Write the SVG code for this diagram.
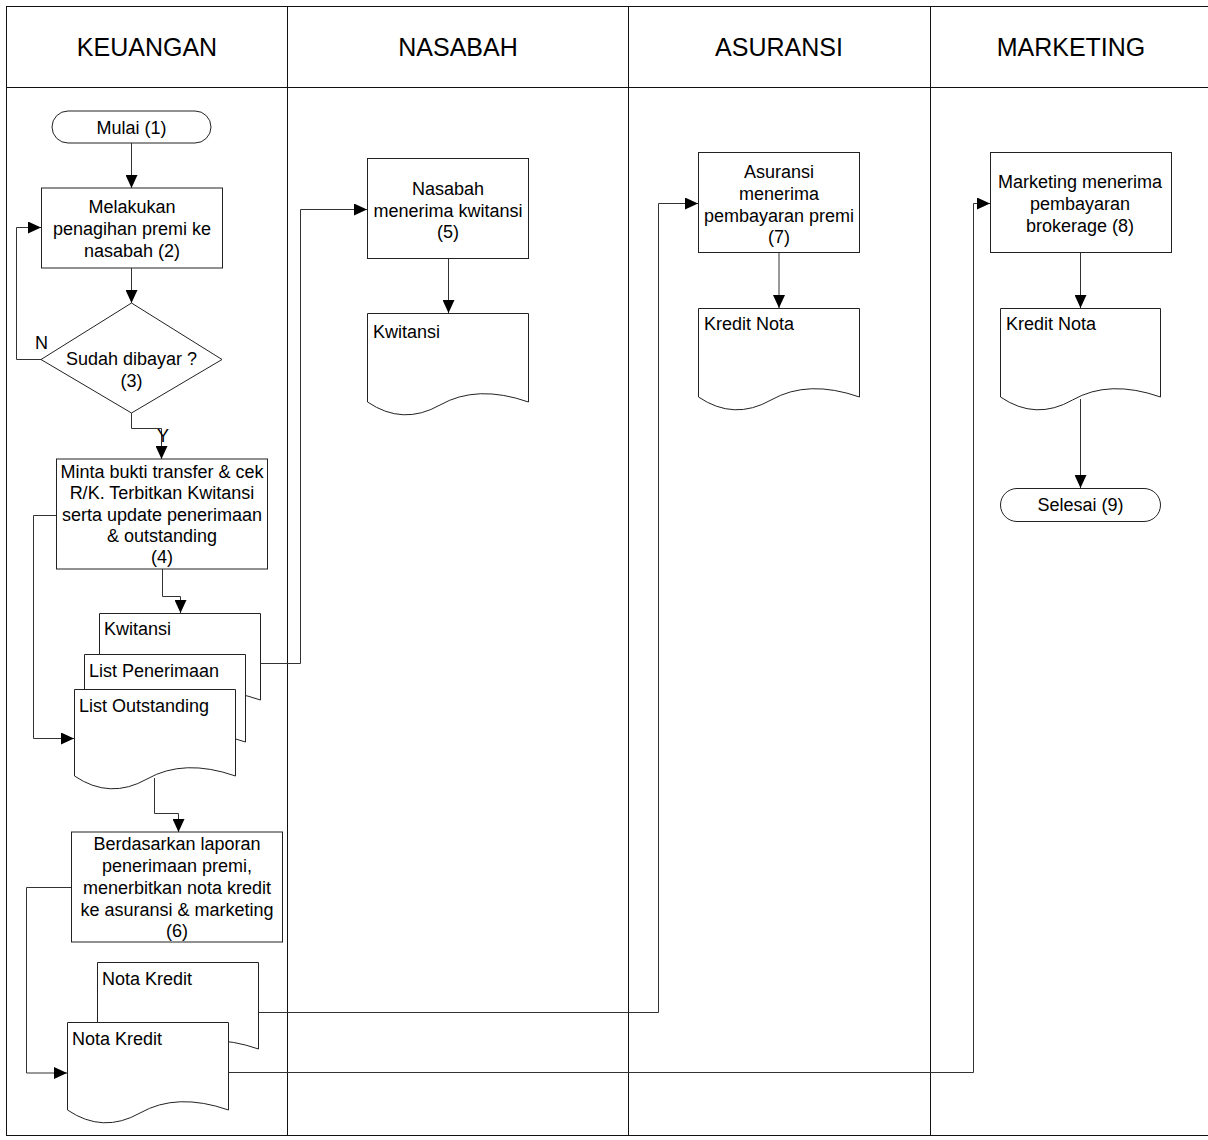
<svg xmlns="http://www.w3.org/2000/svg" width="1208" height="1140" viewBox="0 0 1208 1140">
<defs>
<marker id="arr" viewBox="0 0 10 10" refX="10" refY="5" markerWidth="13" markerHeight="12" markerUnits="userSpaceOnUse" orient="auto" preserveAspectRatio="none">
<path d="M0,0 L10,5 L0,10 z" fill="#000"/>
</marker>
<style>
.shape{fill:#fff;stroke:#222;stroke-width:1}
.lane{fill:none;stroke:#111;stroke-width:1}
.conn{fill:none;stroke:#333;stroke-width:1;marker-end:url(#arr)}
.line{fill:none;stroke:#333;stroke-width:1}
text{font-family:"Liberation Sans",Arial,sans-serif;fill:#000}
.hd{font-size:25px;text-anchor:middle}
.t{font-size:18px;text-anchor:middle}
.dt{font-size:18px}
</style>
</defs>
<rect width="1208" height="1140" fill="#fff"/>
<g id="lanes">
<rect class="lane" x="6.5" y="6.5" width="1215" height="1129"/>
<line class="lane" x1="6" y1="87.5" x2="1208" y2="87.5"/>
<line class="lane" x1="287.5" y1="6" x2="287.5" y2="1136"/>
<line class="lane" x1="628.5" y1="6" x2="628.5" y2="1136"/>
<line class="lane" x1="930.5" y1="6" x2="930.5" y2="1136"/>
<text class="hd" x="147" y="56">KEUANGAN</text>
<text class="hd" x="458" y="56">NASABAH</text>
<text class="hd" x="779" y="56">ASURANSI</text>
<text class="hd" x="1071" y="56">MARKETING</text>
</g>
<g id="connectors">
<path class="conn" d="M131.5,143 V188"/>
<path class="conn" d="M131.5,268 V303"/>
<path class="conn" d="M41,359.5 H16.5 V227.5 H41"/>
<path class="conn" d="M131.5,413 V428.5 H161.5 V459"/>
<path class="conn" d="M56,515.5 H33.5 V738.5 H74"/>
<path class="conn" d="M162.5,569 V596.5 H180.5 V613"/>
<path class="conn" d="M260,663.5 H300.5 V209.5 H367"/>
<path class="conn" d="M154.5,778 V813.5 H178.5 V832"/>
<path class="conn" d="M71,887.5 H26.5 V1073 H67"/>
<path class="conn" d="M258,1012.5 H658.5 V203.5 H698"/>
<path class="conn" d="M228,1072.5 H973.5 V203.5 H990"/>
<path class="conn" d="M448.5,258 V313"/>
<path class="conn" d="M779,252 V308"/>
<path class="conn" d="M1080.5,252 V308"/>
<path class="conn" d="M1080.5,399 V488"/>
<text class="dt" x="35" y="349">N</text>
<text class="dt" x="157" y="442">Y</text>
</g>
<g id="n1">
<rect class="shape" x="52" y="111" width="159" height="32" rx="16"/>
<text class="t" x="131.5" y="134">Mulai (1)</text>
</g>
<g id="n2">
<rect class="shape" x="41.5" y="188" width="181" height="80"/>
<text class="t" x="132" y="213">Melakukan</text>
<text class="t" x="132" y="235">penagihan premi ke</text>
<text class="t" x="132" y="257">nasabah (2)</text>
</g>
<g id="n3">
<polygon class="shape" points="131.5,303 222,359.5 131.5,413 41,359.5"/>
<text class="t" x="131.5" y="365">Sudah dibayar ?</text>
<text class="t" x="131.5" y="387">(3)</text>
</g>
<g id="n4">
<rect class="shape" x="56.5" y="459" width="211" height="110"/>
<text class="t" x="162" y="478">Minta bukti transfer &amp; cek</text>
<text class="t" x="162" y="499">R/K. Terbitkan Kwitansi</text>
<text class="t" x="162" y="521">serta update penerimaan</text>
<text class="t" x="162" y="542">&amp; outstanding</text>
<text class="t" x="162" y="563">(4)</text>
</g>
<g id="d4a">
<path class="shape" d="M99.5,700 V613.5 H260.5 V700 Q209,682 172,703 Q134.9,724 99.5,700 Z"/>
<text class="dt" x="104" y="635">Kwitansi</text>
</g>
<g id="d4b">
<path class="shape" d="M84.5,742 V654.5 H245.5 V742 Q194,724 157,745 Q119.9,766 84.5,742 Z"/>
<text class="dt" x="89" y="677">List Penerimaan</text>
</g>
<g id="d4c">
<path class="shape" d="M74.5,776 V689.5 H235.5 V776 Q184,758 147,779 Q109.9,800 74.5,776 Z"/>
<text class="dt" x="79" y="712">List Outstanding</text>
</g>
<g id="n6">
<rect class="shape" x="71.5" y="832" width="211" height="110"/>
<text class="t" x="177" y="850">Berdasarkan laporan</text>
<text class="t" x="177" y="872">penerimaan premi,</text>
<text class="t" x="177" y="894">menerbitkan nota kredit</text>
<text class="t" x="177" y="916">ke asuransi &amp; marketing</text>
<text class="t" x="177" y="937">(6)</text>
</g>
<g id="d6a">
<path class="shape" d="M97.5,1049 V962.5 H258.5 V1049 Q207,1031 170,1052 Q132.9,1073 97.5,1049 Z"/>
<text class="dt" x="102" y="985">Nota Kredit</text>
</g>
<g id="d6b">
<path class="shape" d="M67.5,1110 V1022.5 H228.5 V1110 Q177,1092 140,1113 Q102.9,1134 67.5,1110 Z"/>
<text class="dt" x="72" y="1045">Nota Kredit</text>
</g>
<g id="n5">
<rect class="shape" x="367.5" y="158.5" width="161" height="100"/>
<text class="t" x="448" y="195">Nasabah</text>
<text class="t" x="448" y="217">menerima kwitansi</text>
<text class="t" x="448" y="238">(5)</text>
</g>
<g id="d5">
<path class="shape" d="M367.5,402 V313.5 H528.5 V402 Q477,384 440,405 Q402.9,426 367.5,402 Z"/>
<text class="dt" x="373" y="338">Kwitansi</text>
</g>
<g id="n7">
<rect class="shape" x="698.5" y="152.5" width="161" height="100"/>
<text class="t" x="779" y="178">Asuransi</text>
<text class="t" x="779" y="200">menerima</text>
<text class="t" x="779" y="222">pembayaran premi</text>
<text class="t" x="779" y="243">(7)</text>
</g>
<g id="d7">
<path class="shape" d="M698.5,397 V308.5 H859.5 V397 Q808,379 771,400 Q733.9,421 698.5,397 Z"/>
<text class="dt" x="704" y="330">Kredit Nota</text>
</g>
<g id="n8">
<rect class="shape" x="990.5" y="152.5" width="181" height="100"/>
<text class="t" x="1080" y="188">Marketing menerima</text>
<text class="t" x="1080" y="210">pembayaran</text>
<text class="t" x="1080" y="232">brokerage (8)</text>
</g>
<g id="d8">
<path class="shape" d="M1000.5,397 V308.5 H1160.5 V397 Q1109.3,379 1072.5,400 Q1035.7,421 1000.5,397 Z"/>
<text class="dt" x="1006" y="330">Kredit Nota</text>
</g>
<g id="n9">
<rect class="shape" x="1000.5" y="488.5" width="160" height="33" rx="16.5"/>
<text class="t" x="1080.5" y="511">Selesai (9)</text>
</g>
</svg>
